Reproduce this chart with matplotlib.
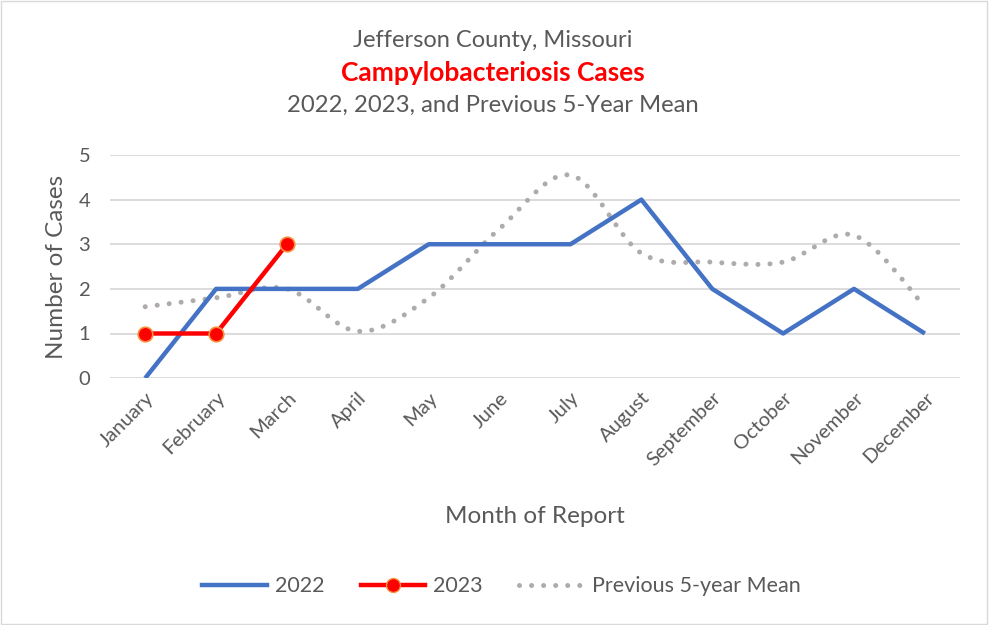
import matplotlib.pyplot as plt
import numpy as np
from matplotlib.path import Path
from matplotlib.patches import PathPatch, Rectangle
from matplotlib.lines import Line2D

plt.rcParams['font.family'] = ['Lato', 'DejaVu Sans']

months = ['January', 'February', 'March', 'April', 'May', 'June', 'July',
          'August', 'September', 'October', 'November', 'December']
cases_2022 = [0, 2, 2, 2, 3, 3, 3, 4, 2, 1, 2, 1]
cases_2023 = [1, 1, 3]
mean_5yr = [1.6, 1.8, 2.0, 1.05, 1.8, 3.35, 4.55, 2.8, 2.6, 2.6, 3.2, 1.6]

grey_txt = '#595959'
dots = (0, (0.01, 2.4))

fig = plt.figure(figsize=(9.89, 6.25), dpi=100)
fig.patches.append(Rectangle((0.001, 0.001), 0.997, 0.997, transform=fig.transFigure,
                             fill=False, edgecolor='#D9D9D9', linewidth=1))
ax = fig.add_axes([0.111, 0.395, 0.860, 0.357])

x = np.arange(len(months))

# smoothed dotted line (Excel style), drawn as Bezier path in data coordinates
pts = np.column_stack([x, mean_5yr]).astype(float)
verts = [pts[0]]
codes = [Path.MOVETO]
for i in range(len(pts) - 1):
    p0 = pts[i - 1] if i > 0 else pts[i]
    p1 = pts[i]
    p2 = pts[i + 1]
    p3 = pts[i + 2] if i + 2 < len(pts) else pts[i + 1]
    c1 = p1 + (p2 - p0) / 6
    c2 = p2 - (p3 - p1) / 6
    verts += [c1, c2, p2]
    codes += [Path.CURVE4] * 3
ax.add_patch(PathPatch(Path(verts, codes), fill=False, edgecolor='#AFABAB',
                       linewidth=3.6, linestyle=dots, capstyle='round', zorder=2))

ax.plot(x, cases_2022, color='#4472C4', linewidth=3.2, solid_capstyle='butt', zorder=3)
ax.plot(x[:len(cases_2023)], cases_2023, color='#FF0000', linewidth=3.2, marker='o',
        markersize=10.5, markerfacecolor='#FF0000', markeredgecolor='#F4913E',
        markeredgewidth=1.2, zorder=4)

ax.set_xlim(-0.5, len(months) - 0.5)
ax.set_ylim(0, 5)
ax.set_yticks(range(6))
ax.set_xticks(x)
ax.set_xticklabels(months, rotation=45, ha='right', rotation_mode='anchor')
ax.tick_params(length=0, labelsize=14.5, colors=grey_txt, pad=8)
ax.tick_params(axis='y', pad=14)
ax.grid(axis='y', color='#D9D9D9', linewidth=1.3)
ax.set_axisbelow(True)
for s in ax.spines.values():
    s.set_visible(False)

ax.set_ylabel('Number of Cases', fontsize=17.5, color=grey_txt, labelpad=8)
fig.text(0.541, 0.174, 'Month of Report', fontsize=17.5, color=grey_txt, ha='center', va='center')

fig.text(0.498, 0.935, 'Jefferson County, Missouri', fontsize=17, color=grey_txt, ha='center', va='center')
fig.text(0.498, 0.883, 'Campylobacteriosis Cases', fontsize=19, color='#FF0000',
         fontweight='bold', ha='center', va='center')
fig.text(0.498, 0.831, '2022, 2023, and Previous 5-Year Mean', fontsize=17.2, color=grey_txt,
         ha='center', va='center')

handles = [
    Line2D([], [], color='#4472C4', linewidth=3.2),
    Line2D([], [], color='#FF0000', linewidth=3.2, marker='o', markersize=10,
           markerfacecolor='#FF0000', markeredgecolor='#F4913E'),
    Line2D([], [], color='#AFABAB', linewidth=3.6, linestyle=dots,
           dash_capstyle='round'),
]
leg = fig.legend(handles, ['2022', '2023', 'Previous 5-year Mean'], loc='center',
                 bbox_to_anchor=(0.507, 0.062), ncol=3, frameon=False, fontsize=15.5,
                 handlelength=3.0, columnspacing=1.7, handletextpad=0.36)
for t in leg.get_texts():
    t.set_color(grey_txt)

fig.savefig('out.png', dpi=100)
